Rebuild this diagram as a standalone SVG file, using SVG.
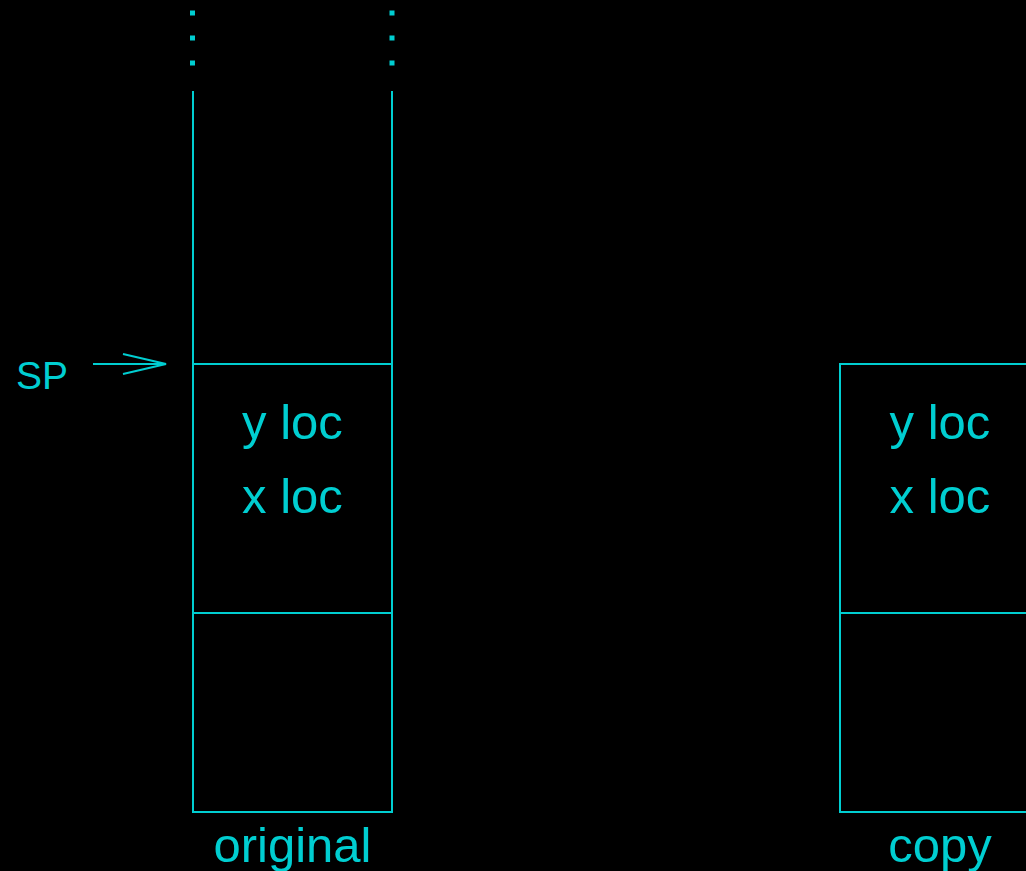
<svg xmlns="http://www.w3.org/2000/svg" width="1026" height="871" viewBox="0 0 1026 871">
<style>
.ln{stroke:#00CED1;stroke-width:2;fill:none}
.dot{fill:#00CED1}
.t{fill:#00CED1;font-family:"Liberation Sans",Arial,sans-serif;font-size:49px;text-anchor:middle}
.sp{fill:#00CED1;font-family:"Liberation Sans",Arial,sans-serif;font-size:39px}
</style>
<rect width="1026" height="871" fill="#000"/>
<g id="original">
<rect class="dot" x="190" y="10.5" width="5" height="5"/>
<rect class="dot" x="190" y="35.5" width="5" height="5"/>
<rect class="dot" x="190" y="60.5" width="5" height="5"/>
<rect class="dot" x="389.5" y="10.5" width="5" height="5"/>
<rect class="dot" x="389.5" y="35.5" width="5" height="5"/>
<rect class="dot" x="389.5" y="60.5" width="5" height="5"/>
<line class="ln" x1="193" y1="91" x2="193" y2="364"/>
<line class="ln" x1="392" y1="91" x2="392" y2="364"/>
<rect class="ln" x="193" y="364" width="199" height="448"/>
<line class="ln" x1="193" y1="613" x2="392" y2="613"/>
<text class="t" x="292.5" y="439">y loc</text>
<text class="t" x="292.5" y="513">x loc</text>
<text class="t" x="292.5" y="862">original</text>
</g>
<g id="copy">
<rect class="ln" x="840" y="364" width="199" height="448"/>
<line class="ln" x1="840" y1="613" x2="1039" y2="613"/>
<text class="t" x="940" y="439">y loc</text>
<text class="t" x="940" y="513">x loc</text>
<text class="t" x="940" y="862">copy</text>
</g>
<g id="sp">
<text class="sp" x="16" y="389">SP</text>
</g>
<g id="connectors">
<line class="ln" x1="93" y1="364" x2="166" y2="364"/>
<polyline class="ln" points="123,354 166,364 123,374"/>
</g>
</svg>
